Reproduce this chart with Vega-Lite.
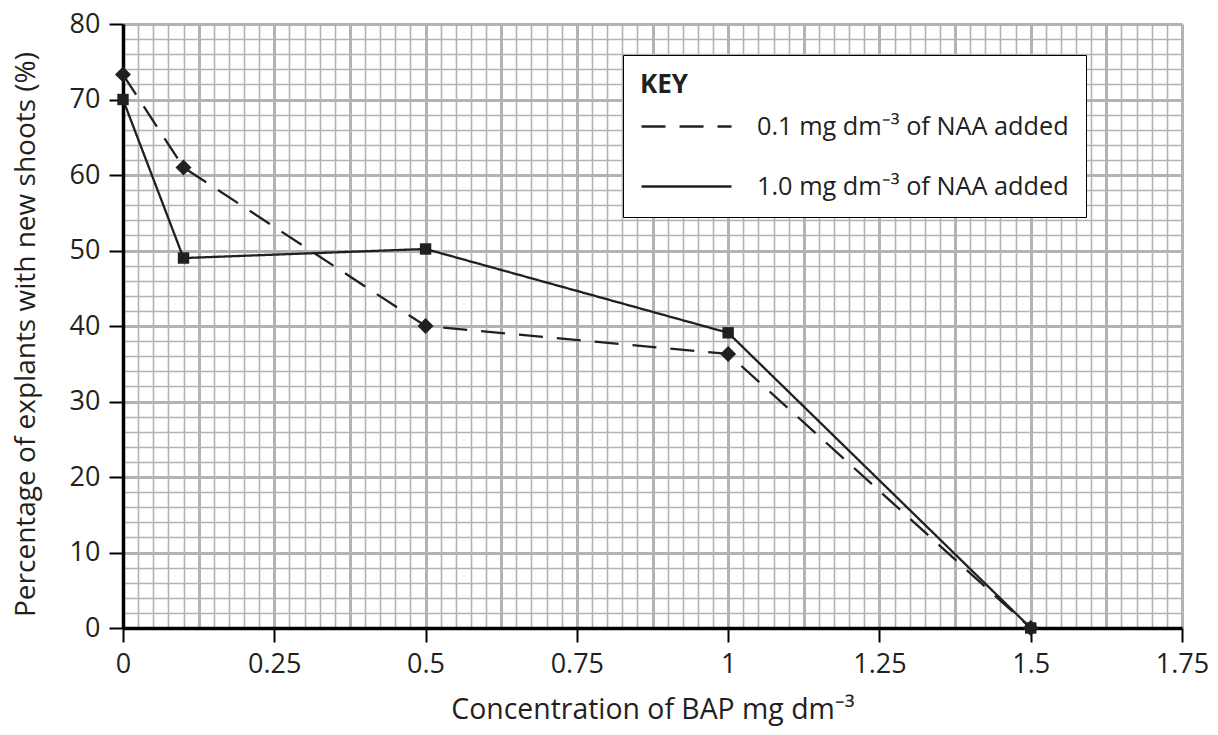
{
  "$schema": "https://vega.github.io/schema/vega-lite/v6.json",
  "width": 1059,
  "height": 604,
  "autosize": "none",
  "padding": {"left": 123, "top": 24, "right": 36, "bottom": 107},
  "background": "white",
  "config": {
    "view": {"stroke": null},
    "font": "Open Sans",
    "axis": {
      "labelFont": "Open Sans",
      "titleFont": "Open Sans",
      "labelColor": "#231f20",
      "titleColor": "#231f20",
      "labelFontSize": 27,
      "titleFontSize": 28.4,
      "titleFontWeight": "normal",
      "domainColor": "#000000",
      "domainWidth": 3.5,
      "tickColor": "#000000",
      "tickWidth": 2,
      "tickSize": 14,
      "gridColor": "#b3b3b3",
      "labelOverlap": false,
      "labelFlush": false
    },
    "legend": {
      "labelFont": "Open Sans",
      "titleFont": "Open Sans",
      "labelColor": "#231f20",
      "titleColor": "#231f20"
    }
  },
  "data": {
    "values": [
      {"bap": 0, "pct": 73.3, "series": "0.1 mg dm⁻³ of NAA added"},
      {"bap": 0.1, "pct": 61.0, "series": "0.1 mg dm⁻³ of NAA added"},
      {"bap": 0.5, "pct": 40.0, "series": "0.1 mg dm⁻³ of NAA added"},
      {"bap": 1.0, "pct": 36.3, "series": "0.1 mg dm⁻³ of NAA added"},
      {"bap": 1.5, "pct": 0, "series": "0.1 mg dm⁻³ of NAA added"},
      {"bap": 0, "pct": 70.0, "series": "1.0 mg dm⁻³ of NAA added"},
      {"bap": 0.1, "pct": 49.0, "series": "1.0 mg dm⁻³ of NAA added"},
      {"bap": 0.5, "pct": 50.2, "series": "1.0 mg dm⁻³ of NAA added"},
      {"bap": 1.0, "pct": 39.1, "series": "1.0 mg dm⁻³ of NAA added"},
      {"bap": 1.5, "pct": 0, "series": "1.0 mg dm⁻³ of NAA added"}
    ]
  },
  "encoding": {
    "x": {
      "field": "bap",
      "type": "quantitative",
      "scale": {"domain": [0, 1.75], "nice": false, "zero": false},
      "axis": {
        "title": "Concentration of BAP mg dm⁻³",
        "titleY": 90,
        "titleBaseline": "alphabetic",
        "values": [0,0.025,0.05,0.075,0.1,0.125,0.15,0.175,0.2,0.225,0.25,0.275,0.3,0.325,0.35,0.375,0.4,0.425,0.45,0.475,0.5,0.525,0.55,0.575,0.6,0.625,0.65,0.675,0.7,0.725,0.75,0.775,0.8,0.825,0.85,0.875,0.9,0.925,0.95,0.975,1,1.025,1.05,1.075,1.1,1.125,1.15,1.175,1.2,1.225,1.25,1.275,1.3,1.325,1.35,1.375,1.4,1.425,1.45,1.475,1.5,1.525,1.55,1.575,1.6,1.625,1.65,1.675,1.7,1.725,1.75],
        "labelExpr": "round(datum.value*1000) % 250 == 0 ? '' + datum.value : ''",
        "labelPadding": 9,
        "tickOpacity": {"condition": {"test": "round(datum.value*1000) % 250 == 0", "value": 1}, "value": 0},
        "grid": true,
        "gridWidth": {"condition": {"test": "round(datum.value*1000) % 125 == 0", "value": 3}, "value": 1.6}
      }
    },
    "y": {
      "field": "pct",
      "type": "quantitative",
      "scale": {"domain": [0, 80], "nice": false},
      "axis": {
        "title": "Percentage of explants with new shoots (%)",
        "titleX": -89,
        "titleY": 310,
        "titleFontSize": 28,
        "titleBaseline": "alphabetic",
        "titleAngle": -90,
        "titleAlign": "center",
        "values": [0,2,4,6,8,10,12,14,16,18,20,22,24,26,28,30,32,34,36,38,40,42,44,46,48,50,52,54,56,58,60,62,64,66,68,70,72,74,76,78,80],
        "labelExpr": "datum.value % 10 == 0 ? '' + datum.value : ''",
        "labelPadding": 9,
        "tickOpacity": {"condition": {"test": "datum.value % 10 == 0", "value": 1}, "value": 0},
        "grid": true,
        "gridWidth": {"condition": {"test": "datum.value % 10 == 0", "value": 3}, "value": 1.6}
      }
    }
  },
  "layer": [
    {
      "mark": {"type": "line", "color": "#231f20", "strokeWidth": 2.3},
      "encoding": {
        "strokeDash": {
          "field": "series",
          "type": "nominal",
          "scale": {"range": [[24, 14], [1, 0]]},
          "legend": {
            "title": "KEY",
            "orient": "none",
            "legendX": 500,
            "legendY": 31,
            "fillColor": "white",
            "strokeColor": "#000000",
            "padding": 17,
            "titleFontSize": 26,
            "titleFontWeight": "bold",
            "titlePadding": 12,
            "labelFontSize": 25.3,
            "labelLimit": 0,
            "labelOffset": 84,
            "symbolType": "M-1,0H5",
            "symbolSize": 900,
            "symbolStrokeWidth": 2.3,
            "symbolStrokeColor": "#231f20",
            "rowPadding": 30
          }
        }
      }
    },
    {
      "mark": {"type": "point", "filled": true, "color": "#231f20", "opacity": 1},
      "encoding": {
        "shape": {
          "field": "series",
          "type": "nominal",
          "scale": {"range": ["diamond", "square"]},
          "legend": null
        },
        "size": {
          "field": "series",
          "type": "nominal",
          "scale": {"range": [256, 130]},
          "legend": null
        }
      }
    }
  ]
}
